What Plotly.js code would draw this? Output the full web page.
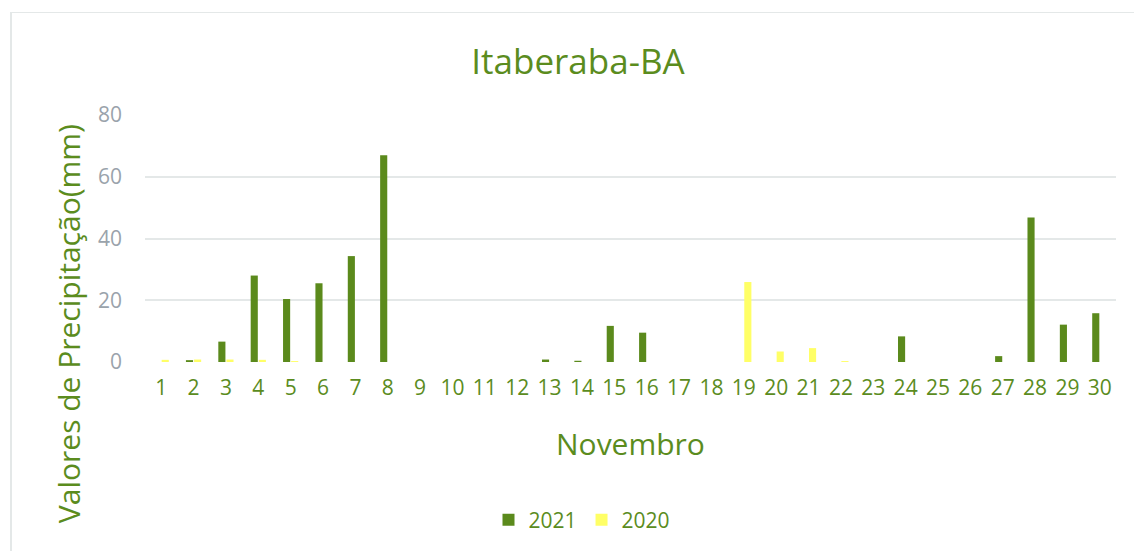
<!DOCTYPE html>
<html>
<head>
<meta charset="utf-8">
<script src="https://cdn.plot.ly/plotly-3.0.1.min.js"></script>
<style>
html,body{margin:0;padding:0;background:#fff;}
#chart{width:1134px;height:551px;position:relative;}
#frame{position:absolute;left:10px;top:12px;width:1134px;height:560px;border-left:2px solid #e4e8e8;border-top:1px solid #e4e8e8;pointer-events:none;}
</style>
</head>
<body>
<div id="chart"></div>
<div id="frame"></div>
<script>
const days = ["1","2","3","4","5","6","7","8","9","10","11","12","13","14","15","16","17","18","19","20","21","22","23","24","25","26","27","28","29","30"];
const rain2021 = [0,0.6,6.6,28,20.4,25.5,34.3,67,0,0,0,0,0.8,0.4,11.7,9.5,0,0,0,0,0,0,0,8.3,0,0,1.9,46.8,12.1,15.8];
const rain2020 = [0.7,0.8,0.8,0.7,0.3,0,0,0,0,0,0,0,0,0,0,0,0,0,25.9,3.4,4.5,0.3,0,0,0,0,0,0,0,0];
const yTicks = [0,20,40,60,80];

const green = '#5b8a1c';
const yellow = '#ffff66';
const textGreen = '#5b8c1e';
const font = 'Open Sans, Noto Sans, sans-serif';

const data = [
  {type:'bar', name:'2021', x:days, y:rain2021, marker:{color:green, line:{width:0}}, hoverinfo:'x+y'},
  {type:'bar', name:'2020', x:days, y:rain2020, marker:{color:yellow, line:{width:0}}, hoverinfo:'x+y'}
];

const layout = {
  width:1134, height:551,
  margin:{l:145, r:18, t:115, b:188},
  paper_bgcolor:'#fff', plot_bgcolor:'#fff',
  barmode:'group', bargap:0.5, bargroupgap:0.12,
  font:{family:font, color:textGreen},
  title:{text:'Itaberaba-BA', font:{size:35, color:textGreen, family:font}, x:578/1134, xanchor:'center', y:1-62/551, yanchor:'middle'},
  xaxis:{type:'category', tickfont:{size:21, color:textGreen}, showgrid:false, zeroline:false, showline:false, ticks:'', ticklabelstandoff:11},
  yaxis:{range:[0,80], tickvals:yTicks, tickfont:{size:21, color:'#9aa3ab'}, gridcolor:'#e4e8e8', gridwidth:2, zeroline:false, showline:false, ticks:'', ticklabelstandoff:22, fixedrange:true},
  showlegend:true,
  legend:{orientation:'h', x:(582-145)/971, xanchor:'center', y:(363-520)/248, yanchor:'middle', font:{size:21, color:textGreen}, itemwidth:30, traceorder:'normal'},
  annotations:[
    {text:'Valores de Precipitação(mm)', xref:'paper', yref:'paper', x:(68-145)/971, y:(363-325)/248, textangle:-90, showarrow:false, font:{size:30, color:textGreen, family:font}, xanchor:'center', yanchor:'middle'},
    {text:'Novembro', xref:'paper', yref:'paper', x:(630-145)/971, y:(363-445)/248, showarrow:false, font:{size:30, color:textGreen, family:font}, xanchor:'center', yanchor:'middle'}
  ]
};

Plotly.newPlot('chart', data, layout, {displayModeBar:false, staticPlot:true});
</script>
</body>
</html>
